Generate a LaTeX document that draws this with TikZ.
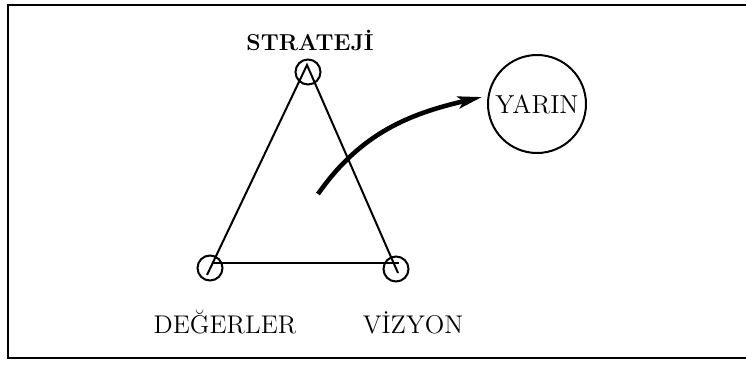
\documentclass[tikz,border=0pt]{standalone}
\usepackage{fontspec}
\usepackage{tikz}
\usetikzlibrary{arrows.meta}

\begin{document}
\begin{tikzpicture}[
    x=0.5pt, y=-0.5pt,
    vertex/.style={circle, draw, line width=1pt, minimum size=12.5pt, inner sep=0pt},
    goal/.style={circle, draw, line width=1pt, minimum size=49pt, inner sep=0pt, font=\fontsize{13}{15}\selectfont},
    edge/.style={line width=1pt},
    lbl/.style={font=\fontsize{12.8}{15}\selectfont},
    arr/.style={-{Stealth[length=12pt, width=6pt, inset=2.5pt]}, line width=2.3pt}
]
    \useasboundingbox (0,0) rectangle (746,371);
    % frame
    \draw[line width=1.3pt] (746,5) -- (8,5) -- (8,358) -- (746,358);

    % triangle corners
    \node[vertex] (strat) at (308,72) {};
    \node[vertex] (val) at (210,268) {};
    \node[vertex] (vis) at (396,269) {};
    \coordinate (apex) at (307,65);
    \coordinate (leftend) at (207,275);
    \coordinate (rightend) at (398,273);
    \coordinate (hleft) at (212,263);
    \coordinate (hright) at (399,263);

    \draw[edge] (leftend) -- (apex) -- (rightend);
    \draw[edge] (hleft) -- (hright);

    % labels
    \node[lbl, font=\bfseries\fontsize{11.5}{13}\selectfont] (lstrat) at (310,40) {STRATEJİ};
    \node[lbl] (lval) at (225,322) {DEĞERLER};
    \node[lbl] (lvis) at (413,323) {VİZYON};

    % future
    \node[goal] (yarin) at (537,104) {YARIN};
    \coordinate (start) at (318,194);
    \coordinate (tip) at (482,97);
    \draw[arr] (start) to[out=55, in=193] (tip);
\end{tikzpicture}
\end{document}
